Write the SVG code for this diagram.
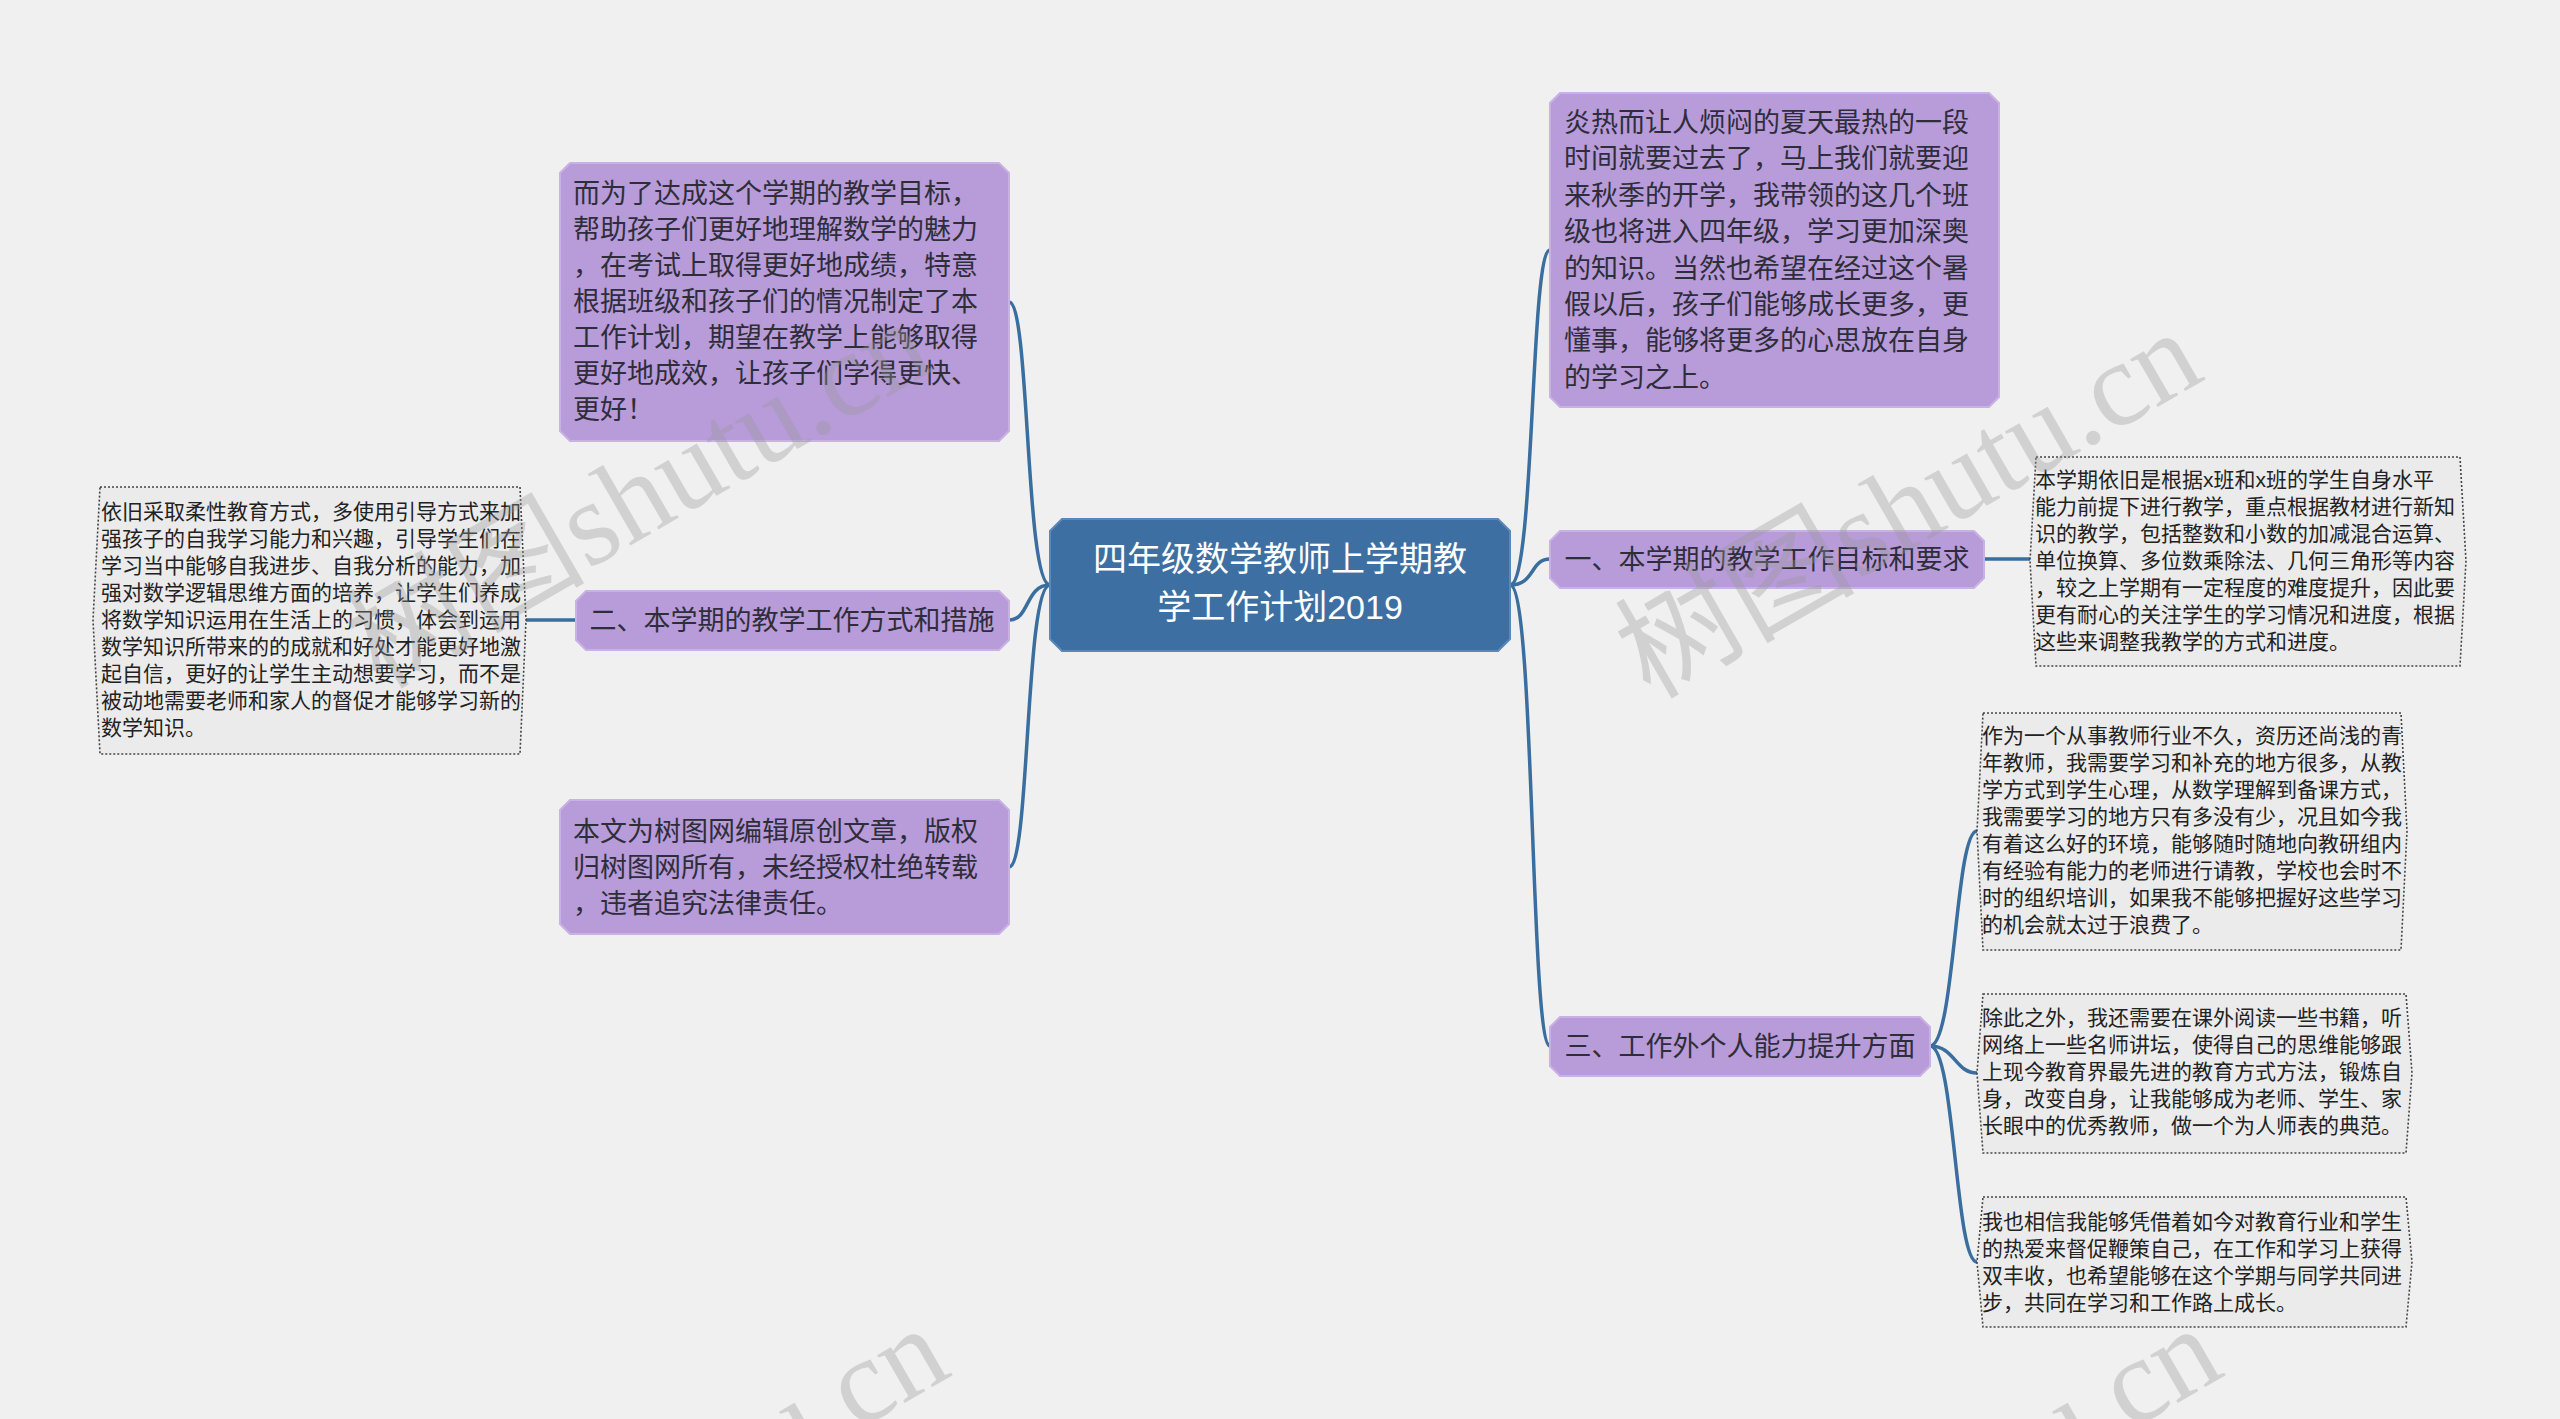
<svg xmlns="http://www.w3.org/2000/svg" width="2560" height="1419" viewBox="0 0 2560 1419">
<style>
text{font-family:"Liberation Sans","Noto Sans CJK SC",sans-serif}
.p{fill:#b89bd9;stroke:#c8b2e3;stroke-width:2}
.pt{font-size:27px;fill:#2e2e3a}
.l{fill:#ebebeb;stroke:#444;stroke-width:1.6;stroke-dasharray:2 2}
.lt{font-size:21px;fill:#222}
.c{fill:none;stroke:#3a6e9e;stroke-width:3.5}
.wm{font-family:"Liberation Serif","Noto Sans CJK SC",serif;font-size:120px;fill:#999;opacity:0.35}
</style>
<rect width="2560" height="1419" fill="#f0f0f0"/>
<g id="connectors">
<path class="c" d="M1050 585 C1025 585 1030 302 1009 302"/>
<path class="c" d="M1050 585 C1025 585 1030 620 1009 620"/>
<path class="c" d="M1050 585 C1025 585 1030 867 1009 867"/>
<path class="c" d="M1510 585 C1535 585 1530 250 1550 250"/>
<path class="c" d="M1510 585 C1535 585 1530 559 1550 559"/>
<path class="c" d="M1510 585 C1535 585 1530 1046 1550 1046"/>
<path class="c" d="M576 620 L526 620"/>
<path class="c" d="M1984 559 L2030 559"/>
<path class="c" d="M1930 1046 C1955 1046 1955 831 1977 831"/>
<path class="c" d="M1930 1046 C1955 1046 1955 1073 1977 1073"/>
<path class="c" d="M1930 1046 C1955 1046 1955 1262 1977 1262"/>
</g>
<g id="center">
<path d="M1062 519 H1498 L1510 531 V639 L1498 651 H1062 L1050 639 V531 Z" fill="#3d6fa3" stroke="#5a88b8" stroke-width="2"/>
<text x="1280" y="571" text-anchor="middle" font-size="34" fill="#fff">四年级数学教师上学期教</text>
<text x="1280" y="619" text-anchor="middle" font-size="34" fill="#fff">学工作计划2019</text>
</g>
<g id="left-top">
<path class="p" d="M570 163 H999 L1009 173 V431 L999 441 H570 L560 431 V173 Z"/>
<text class="pt" x="573" y="203">而为了达成这个学期的教学目标，</text>
<text class="pt" x="573" y="239">帮助孩子们更好地理解数学的魅力</text>
<text class="pt" x="573" y="275">，在考试上取得更好地成绩，特意</text>
<text class="pt" x="573" y="311">根据班级和孩子们的情况制定了本</text>
<text class="pt" x="573" y="347">工作计划，期望在教学上能够取得</text>
<text class="pt" x="573" y="383">更好地成效，让孩子们学得更快、</text>
<text class="pt" x="573" y="419">更好！</text>
</g>
<g id="left-mid">
<path class="p" d="M586 591 H999 L1009 601 V640 L999 650 H586 L576 640 V601 Z"/>
<text class="pt" x="792" y="630" text-anchor="middle">二、本学期的教学工作方式和措施</text>
</g>
<g id="left-bottom">
<path class="p" d="M570 800 H999 L1009 810 V924 L999 934 H570 L560 924 V810 Z"/>
<text class="pt" x="573" y="841">本文为树图网编辑原创文章，版权</text>
<text class="pt" x="573" y="877">归树图网所有，未经授权杜绝转载</text>
<text class="pt" x="573" y="913">，违者追究法律责任。</text>
</g>
<g id="left-leaf">
<path class="l" d="M100 487 H520 L526 620 L520 754 H100 L93 620 Z"/>
<text class="lt" x="101" y="519">依旧采取柔性教育方式，多使用引导方式来加</text>
<text class="lt" x="101" y="546">强孩子的自我学习能力和兴趣，引导学生们在</text>
<text class="lt" x="101" y="573">学习当中能够自我进步、自我分析的能力，加</text>
<text class="lt" x="101" y="600">强对数学逻辑思维方面的培养，让学生们养成</text>
<text class="lt" x="101" y="627">将数学知识运用在生活上的习惯，体会到运用</text>
<text class="lt" x="101" y="654">数学知识所带来的的成就和好处才能更好地激</text>
<text class="lt" x="101" y="681">起自信，更好的让学生主动想要学习，而不是</text>
<text class="lt" x="101" y="708">被动地需要老师和家人的督促才能够学习新的</text>
<text class="lt" x="101" y="735">数学知识。</text>
</g>
<g id="right-top">
<path class="p" d="M1560 93 H1989 L1999 103 V397 L1989 407 H1560 L1550 397 V103 Z"/>
<text class="pt" x="1564" y="132">炎热而让人烦闷的夏天最热的一段</text>
<text class="pt" x="1564" y="168">时间就要过去了，马上我们就要迎</text>
<text class="pt" x="1564" y="205">来秋季的开学，我带领的这几个班</text>
<text class="pt" x="1564" y="241">级也将进入四年级，学习更加深奥</text>
<text class="pt" x="1564" y="278">的知识。当然也希望在经过这个暑</text>
<text class="pt" x="1564" y="314">假以后，孩子们能够成长更多，更</text>
<text class="pt" x="1564" y="350">懂事，能够将更多的心思放在自身</text>
<text class="pt" x="1564" y="387">的学习之上。</text>
</g>
<g id="right-mid">
<path class="p" d="M1560 531 H1974 L1984 541 V578 L1974 588 H1560 L1550 578 V541 Z"/>
<text class="pt" x="1767" y="569" text-anchor="middle">一、本学期的教学工作目标和要求</text>
</g>
<g id="right-bottom">
<path class="p" d="M1560 1017 H1920 L1930 1027 V1066 L1920 1076 H1560 L1550 1066 V1027 Z"/>
<text class="pt" x="1740" y="1056" text-anchor="middle">三、工作外个人能力提升方面</text>
</g>
<g id="right-leaf1">
<path class="l" d="M2036 457 H2460 L2466 561 L2460 666 H2036 L2030 561 Z"/>
<text class="lt" x="2035" y="487">本学期依旧是根据x班和x班的学生自身水平</text>
<text class="lt" x="2035" y="514">能力前提下进行教学，重点根据教材进行新知</text>
<text class="lt" x="2035" y="541">识的教学，包括整数和小数的加减混合运算、</text>
<text class="lt" x="2035" y="568">单位换算、多位数乘除法、几何三角形等内容</text>
<text class="lt" x="2035" y="595">，较之上学期有一定程度的难度提升，因此要</text>
<text class="lt" x="2035" y="622">更有耐心的关注学生的学习情况和进度，根据</text>
<text class="lt" x="2035" y="649">这些来调整我教学的方式和进度。</text>
</g>
<g id="right-leaf2">
<path class="l" d="M1983 713 H2401 L2407 831 L2401 950 H1983 L1977 831 Z"/>
<text class="lt" x="1982" y="743">作为一个从事教师行业不久，资历还尚浅的青</text>
<text class="lt" x="1982" y="770">年教师，我需要学习和补充的地方很多，从教</text>
<text class="lt" x="1982" y="797">学方式到学生心理，从数学理解到备课方式，</text>
<text class="lt" x="1982" y="824">我需要学习的地方只有多没有少，况且如今我</text>
<text class="lt" x="1982" y="851">有着这么好的环境，能够随时随地向教研组内</text>
<text class="lt" x="1982" y="878">有经验有能力的老师进行请教，学校也会时不</text>
<text class="lt" x="1982" y="905">时的组织培训，如果我不能够把握好这些学习</text>
<text class="lt" x="1982" y="932">的机会就太过于浪费了。</text>
</g>
<g id="right-leaf3">
<path class="l" d="M1983 994 H2406 L2412 1073 L2406 1153 H1983 L1977 1073 Z"/>
<text class="lt" x="1982" y="1025">除此之外，我还需要在课外阅读一些书籍，听</text>
<text class="lt" x="1982" y="1052">网络上一些名师讲坛，使得自己的思维能够跟</text>
<text class="lt" x="1982" y="1079">上现今教育界最先进的教育方式方法，锻炼自</text>
<text class="lt" x="1982" y="1106">身，改变自身，让我能够成为老师、学生、家</text>
<text class="lt" x="1982" y="1133">长眼中的优秀教师，做一个为人师表的典范。</text>
</g>
<g id="right-leaf4">
<path class="l" d="M1983 1197 H2406 L2412 1262 L2406 1327 H1983 L1977 1262 Z"/>
<text class="lt" x="1982" y="1229">我也相信我能够凭借着如今对教育行业和学生</text>
<text class="lt" x="1982" y="1256">的热爱来督促鞭策自己，在工作和学习上获得</text>
<text class="lt" x="1982" y="1283">双丰收，也希望能够在这个学期与同学共同进</text>
<text class="lt" x="1982" y="1310">步，共同在学习和工作路上成长。</text>
</g>
<g id="watermarks">
<text class="wm" transform="translate(380 690) rotate(-30)">树图shutu.cn</text>
<text class="wm" transform="translate(1650 700) rotate(-30)">树图shutu.cn</text>
<text class="wm" transform="translate(397 1696) rotate(-30)">树图shutu.cn</text>
<text class="wm" transform="translate(1670 1696) rotate(-30)">树图shutu.cn</text>
</g>
</svg>
